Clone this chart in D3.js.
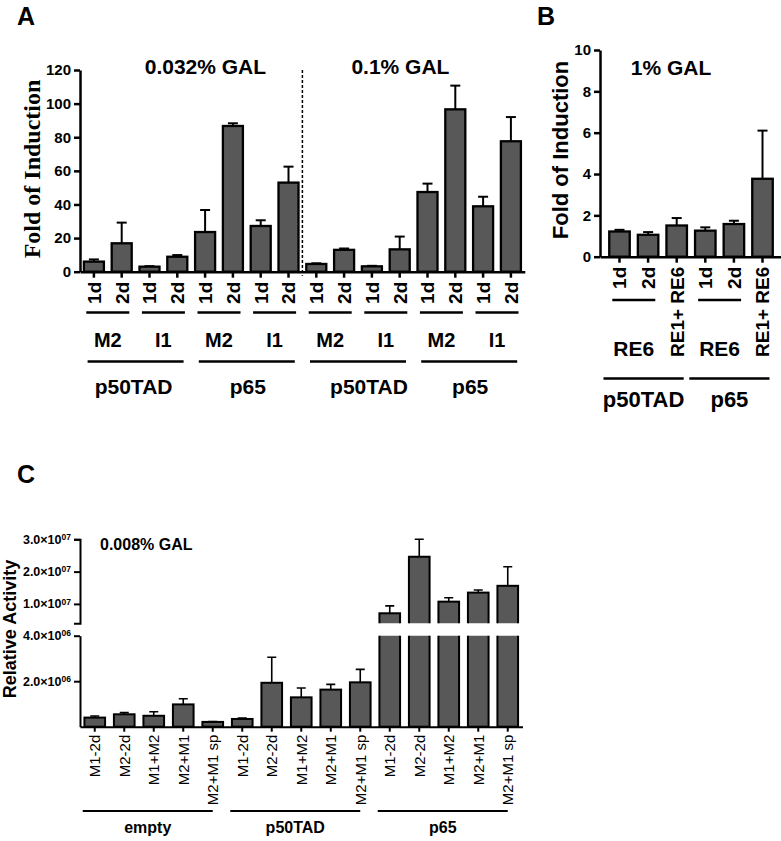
<!DOCTYPE html>
<html><head><meta charset="utf-8">
<script src="https://cdn.jsdelivr.net/npm/d3@7"></script>
<style>body{margin:0;background:#fff} svg{display:block}</style>
</head><body>
<svg id="chart" width="781" height="841"></svg>
<script>
// ---------------- DATA ----------------
// Panel A
const aConditions = ["0.032% GAL", "0.1% GAL"];
const aProteins = ["p50TAD", "p65", "p50TAD", "p65"];
const aConstructs = ["M2", "I1", "M2", "I1", "M2", "I1", "M2", "I1"];
const aDays = ["1d","2d","1d","2d","1d","2d","1d","2d","1d","2d","1d","2d","1d","2d","1d","2d"];
const aValues = [6, 16.9, 3, 8.9, 23.6, 86.7, 27.2, 53, 4.6, 13, 3.2, 13.3, 47.4, 96.6, 38.9, 77.6];
const aErrors = [1.3, 12.3, 0.3, 1, 13.1, 1.6, 3.4, 9.5, 0.4, 0.8, 0.3, 7.6, 5, 14.1, 5.7, 14.4];
const aTicks = [0, 20, 40, 60, 80, 100, 120];

// Panel B
const bCondition = "1% GAL";
const bLabels = ["1d", "2d", "RE1+ RE6", "1d", "2d", "RE1+ RE6"];
const bPairs = ["RE6", "RE6"];
const bProteins = ["p50TAD", "p65"];
const bValues = [1.22, 1.06, 1.51, 1.26, 1.58, 3.77];
const bErrors = [0.08, 0.13, 0.36, 0.16, 0.16, 2.33];
const bTicks = [0, 2, 4, 6, 8, 10];

// Panel C
const cCondition = "0.008% GAL";
const cLabels = ["M1-2d","M2-2d","M1+M2","M2+M1","M2+M1 sp",
                 "M1-2d","M2-2d","M1+M2","M2+M1","M2+M1 sp",
                 "M1-2d","M2-2d","M1+M2","M2+M1","M2+M1 sp"];
const cGroups = ["empty", "p50TAD", "p65"];
const cValues = [0.40e6, 0.545e6, 0.48e6, 0.98e6, 0.21e6,
                 0.34e6, 1.93e6, 1.29e6, 1.63e6, 1.95e6,
                 7.1e6, 2.46e7, 1.07e7, 1.35e7, 1.56e7];
const cErrors = [0.07e6, 0.075e6, 0.18e6, 0.25e6, 0.02e6,
                 0.04e6, 1.12e6, 0.41e6, 0.23e6, 0.57e6,
                 2.3e6, 0.54e7, 0.12e7, 0.08e7, 0.59e7];
const cTicksLower = [2e6, 4e6];
const cTicksUpper = [1e7, 2e7, 3e7];
const cBreak = 4e6;

// ---------------- DRAW ----------------
const svg = d3.select("#chart");
const BAR = "#585858";
const SANS = "'Liberation Sans', Arial, Helvetica, sans-serif";
const SERIF = "'Liberation Serif', 'Times New Roman', serif";

function styleAxis(g, w) {
  g.selectAll("path,line").attr("stroke", "#000").attr("stroke-width", w);
  g.selectAll("text").attr("fill", "#000").attr("font-family", SANS);
}
function txt(x, y, s, size, opts = {}) {
  return svg.append("text").attr("x", x).attr("y", y).text(s)
    .attr("font-family", opts.family || SANS).attr("font-weight", opts.weight || "bold")
    .attr("font-size", size).attr("text-anchor", opts.anchor || "middle").attr("fill", "#000");
}
function hline(x1, x2, y, w) {
  svg.append("line").attr("x1", x1).attr("x2", x2).attr("y1", y).attr("y2", y)
    .attr("stroke", "#000").attr("stroke-width", w);
}
function errorBars(g, data, cx, yv, cap, w) {
  const eg = g.append("g").attr("stroke", "#000").attr("stroke-width", w);
  data.forEach(d => {
    const x = cx(d.i), y0 = yv(d.v), y1 = yv(d.v + d.e);
    eg.append("line").attr("x1", x).attr("x2", x).attr("y1", y0).attr("y2", y1);
    eg.append("line").attr("x1", x - cap).attr("x2", x + cap).attr("y1", y1).attr("y2", y1);
  });
}

// ===== Panel A =====
const xA = d3.scaleBand().domain(d3.range(aValues.length)).range([80, 80 + 16 * 27.8])
  .paddingInner(0.28).paddingOuter(0.14);
const yA = d3.scaleLinear().domain([0, 120]).range([271.7, 70]);
const cA = i => xA(i) + xA.bandwidth() / 2;

const gAy = svg.append("g").attr("transform", "translate(80,0)")
  .call(d3.axisLeft(yA).tickValues(aTicks).tickSize(6).tickSizeOuter(0).tickPadding(3));
styleAxis(gAy, 2.5);
gAy.selectAll("text").attr("font-size", 15).attr("font-weight", "bold");

const gAx = svg.append("g").attr("transform", `translate(0,${yA(0)})`)
  .call(d3.axisBottom(xA).tickSize(6).tickSizeOuter(0).tickFormat(i => aDays[i]));
styleAxis(gAx, 2.5);
gAx.selectAll("text").attr("font-size", 19).attr("font-weight", "bold")
  .attr("text-anchor", "end").attr("transform", "rotate(-90)")
  .attr("x", -10).attr("y", 0).attr("dy", "0.36em");

const aData = aValues.map((v, i) => ({ i, v, e: aErrors[i] }));
const gA = svg.append("g");
errorBars(gA, aData, cA, yA, 5, 2);
gA.selectAll("rect").data(aData).join("rect")
  .attr("x", d => xA(d.i)).attr("width", xA.bandwidth())
  .attr("y", d => yA(d.v)).attr("height", d => yA(0) - yA(d.v))
  .attr("fill", BAR).attr("stroke", "#000").attr("stroke-width", 2.3);

const sepX = (xA(7) + xA.bandwidth() + xA(8)) / 2;
svg.append("line").attr("x1", sepX).attr("x2", sepX).attr("y1", yA(120)).attr("y2", yA(0) + 4)
  .attr("stroke", "#000").attr("stroke-width", 1.5).attr("stroke-dasharray", "3,2");
txt(sepX - 97, 74, aConditions[0], 21);
txt(sepX + 98, 74, aConditions[1], 21);

aConstructs.forEach((s, k) => {
  const cx = (cA(2 * k) + cA(2 * k + 1)) / 2;
  hline(cx - 21.5, cx + 21.5, 312.5, 2.5);
  txt(cx, 347, s, 20);
});
const aProtShift = [-2, 1, 11, 1];
aProteins.forEach((s, k) => {
  const cx = (cA(4 * k) + cA(4 * k + 3)) / 2;
  hline(cx - 48, cx + 48, 361.5, 2.5);
  txt(cx + aProtShift[k], 393.5, s, 21);
});
svg.append("text").attr("transform", "translate(40,169) rotate(-90)")
  .attr("text-anchor", "middle").attr("font-family", SERIF).attr("font-weight", "bold")
  .attr("font-size", 24).text("Fold of Induction");
txt(17, 25, "A", 25, { anchor: "start" });

// ===== Panel B =====
const xB = d3.scaleBand().domain(d3.range(bValues.length)).range([600, 782])
  .paddingInner(0.283).paddingOuter(0.323);
const yB = d3.scaleLinear().domain([0, 10]).range([256.7, 50]);
const cB = i => xB(i) + xB.bandwidth() / 2;

const gBy = svg.append("g").attr("transform", "translate(600,0)")
  .call(d3.axisLeft(yB).tickValues(bTicks).tickSize(6).tickSizeOuter(0).tickPadding(3));
styleAxis(gBy, 2.5);
gBy.selectAll("text").attr("font-size", 15).attr("font-weight", "bold");

const gBx = svg.append("g").attr("transform", `translate(0,${yB(0)})`)
  .call(d3.axisBottom(xB).tickSize(6).tickSizeOuter(0).tickFormat(i => bLabels[i]));
styleAxis(gBx, 2.5);
gBx.selectAll("text").attr("font-size", 19).attr("font-weight", "bold")
  .attr("text-anchor", "end").attr("transform", "rotate(-90)")
  .attr("x", -10).attr("y", 0).attr("dy", "0.36em");

const bData = bValues.map((v, i) => ({ i, v, e: bErrors[i] }));
const gB = svg.append("g");
errorBars(gB, bData, cB, yB, 5, 2);
gB.selectAll("rect").data(bData).join("rect")
  .attr("x", d => xB(d.i)).attr("width", xB.bandwidth())
  .attr("y", d => yB(d.v)).attr("height", d => yB(0) - yB(d.v))
  .attr("fill", BAR).attr("stroke", "#000").attr("stroke-width", 2.3);

txt(671, 75, bCondition, 21);
bPairs.forEach((s, k) => {
  const cx = (cB(3 * k) + cB(3 * k + 1)) / 2;
  hline(cx - 21.5, cx + 21.5, 300, 2.3);
  txt(cx, 356, s, 21);
});
bProteins.forEach((s, k) => {
  const x1 = cB(3 * k) - 16, x2 = cB(3 * k + 2) + 7;
  hline(x1, x2, 378.5, 2.5);
  txt((x1 + x2) / 2, 407, s, 22);
});
svg.append("text").attr("transform", "translate(568,150) rotate(-90)")
  .attr("text-anchor", "middle").attr("font-family", SANS).attr("font-weight", "bold")
  .attr("font-size", 22).text("Fold of Induction");
txt(537, 25, "B", 25, { anchor: "start" });

// ===== Panel C =====
const xC = d3.scaleBand().domain(d3.range(cValues.length)).range([80, 522.5])
  .paddingInner(0.3).paddingOuter(0.15);
const yCL = d3.scaleLinear().domain([0, cBreak]).range([726.7, 635.7]);
const yCU = d3.scaleLinear().domain([cBreak, 3e7]).range([623.3, 539.3]);
const cC = i => xC(i) + xC.bandwidth() / 2;

function sciTicks(g) {
  g.selectAll(".tick text").each(function (d) {
    const el = d3.select(this);
    const exp = Math.floor(Math.log10(d) + 1e-9);
    const mant = d / Math.pow(10, exp);
    el.text(null);
    el.append("tspan").text(mant.toFixed(1) + "×10");
    el.append("tspan").attr("dy", "-0.45em").attr("font-size", 8.5).text(String(exp).padStart(2, "0"));
  });
}
const gCyL = svg.append("g").attr("transform", "translate(80,0)")
  .call(d3.axisLeft(yCL).tickValues(cTicksLower).tickSize(6).tickSizeOuter(0).tickPadding(3));
const gCyU = svg.append("g").attr("transform", "translate(80,0)")
  .call(d3.axisLeft(yCU).tickValues(cTicksUpper).tickSize(6).tickSizeOuter(6).tickPadding(3));
[gCyL, gCyU].forEach(g => {
  styleAxis(g, 2);
  g.selectAll("text").attr("font-size", 12.5).attr("font-weight", "bold");
  sciTicks(g);
});

const gCx = svg.append("g").attr("transform", `translate(0,${yCL(0)})`)
  .call(d3.axisBottom(xC).tickSize(5).tickSizeOuter(0).tickFormat(i => cLabels[i]));
styleAxis(gCx, 2);
gCx.selectAll("text").attr("font-size", 15).attr("font-weight", "normal")
  .attr("text-anchor", "end").attr("transform", "rotate(-90)")
  .attr("x", -8).attr("y", 0).attr("dy", "0.36em");

const defs = svg.append("defs");
defs.append("clipPath").attr("id", "clipLow").append("rect")
  .attr("x", 0).attr("width", 781).attr("y", yCL(cBreak)).attr("height", 841 - yCL(cBreak));
defs.append("clipPath").attr("id", "clipUp").append("rect")
  .attr("x", 0).attr("width", 781).attr("y", 0).attr("height", yCU(cBreak));

const cData = cValues.map((v, i) => ({ i, v, e: cErrors[i] }));
const gCL = svg.append("g").attr("clip-path", "url(#clipLow)");
gCL.selectAll("rect").data(cData).join("rect")
  .attr("x", d => xC(d.i)).attr("width", xC.bandwidth())
  .attr("y", d => d.v > cBreak ? yCL(cBreak) - 6 : yCL(d.v))
  .attr("height", d => yCL(0) - (d.v > cBreak ? yCL(cBreak) - 6 : yCL(d.v)))
  .attr("fill", BAR).attr("stroke", "#000").attr("stroke-width", 2);
errorBars(gCL, cData.filter(d => d.v <= cBreak), cC, yCL, 4.5, 1.6);

const upData = cData.filter(d => d.v > cBreak);
const gCU = svg.append("g").attr("clip-path", "url(#clipUp)");
errorBars(gCU, upData, cC, yCU, 4.5, 1.6);
gCU.selectAll("rect").data(upData).join("rect")
  .attr("x", d => xC(d.i)).attr("width", xC.bandwidth())
  .attr("y", d => yCU(d.v)).attr("height", d => yCU(cBreak) + 6 - yCU(d.v))
  .attr("fill", BAR).attr("stroke", "#000").attr("stroke-width", 2);

cGroups.forEach((s, k) => {
  const x1 = cC(5 * k) - 12, x2 = cC(5 * k + 4);
  hline(x1, x2, 811, 1.8);
  txt((x1 + x2) / 2, 833, s, 16);
});
txt(100, 550, cCondition, 16, { anchor: "start" });
svg.append("text").attr("transform", "translate(16,629) rotate(-90)")
  .attr("text-anchor", "middle").attr("font-family", SANS).attr("font-weight", "bold")
  .attr("font-size", 18).text("Relative Activity");
txt(17, 483, "C", 25, { anchor: "start" });
</script>
</body></html>
